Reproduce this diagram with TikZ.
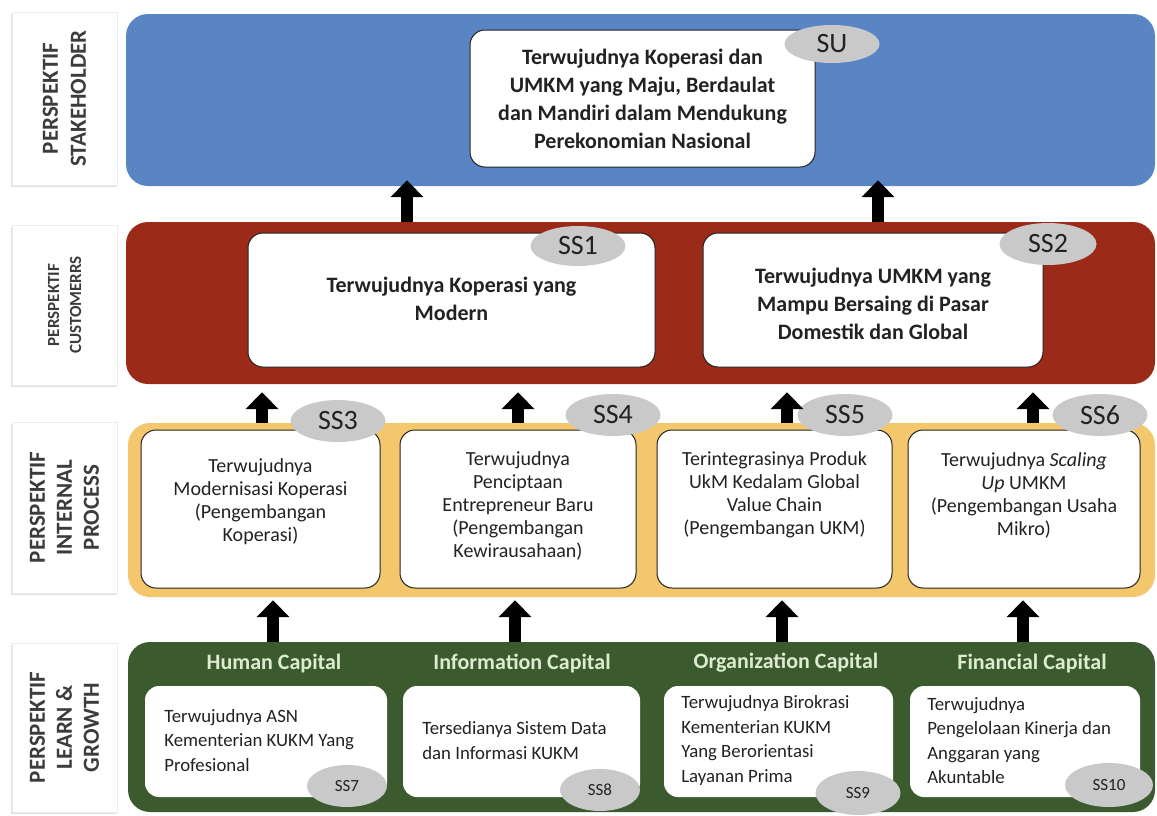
\documentclass[tikz,border=0pt]{standalone}
\usepackage{fontspec}
\setmainfont{Carlito}
\usetikzlibrary{arrows.meta,shadows,shapes.geometric}
\definecolor{bandblue}{HTML}{5A85C4}
\definecolor{bandred}{HTML}{9B2A18}
\definecolor{bandorange}{HTML}{F5C76C}
\definecolor{bandgreen}{HTML}{3B5B2E}
\definecolor{headgreen}{HTML}{DDEBD0}
\definecolor{txt}{HTML}{222222}
\definecolor{ovalgray}{HTML}{C9C9C9}
\definecolor{labeltxt}{HTML}{3C3C3C}
\tikzset{
  band/.style={draw=none, rounded corners=22pt, inner sep=0pt},
  lbl/.style={fill=white, draw=gray!15, inner sep=0pt, drop shadow={shadow xshift=-1.5pt, shadow yshift=-2pt, opacity=0.25}},
  lbltext/.style={rotate=90, align=center, text=labeltxt, font=\bfseries},
  whitebox/.style={fill=white, draw=txt, line width=1pt, rounded corners=15pt, inner sep=0pt},
  greenbox/.style={fill=white, draw=none, rounded corners=14pt, inner sep=0pt},
  oval/.style={ellipse, fill=ovalgray, inner sep=0pt, text=txt},
  bigarrow/.style={line width=12pt, -{Triangle[width=32pt,length=17pt]}, black},
  toptext/.style={align=center, text=txt, font=\bfseries\fontsize{22}{28}\selectfont},
  midtext/.style={align=center, text=txt, font=\fontsize{20}{23}\selectfont},
  learntext/.style={align=left, text=txt, font=\fontsize{18.8}{24.5}\selectfont, anchor=west},
  headtext/.style={text=headgreen, font=\bfseries\fontsize{22}{24}\selectfont},
}
\begin{document}
\begin{tikzpicture}[x=1pt,y=-1pt]
\useasboundingbox (0,0) rectangle (1157,815);
\fill[white] (0,0) rectangle (1157,815);

% left labels
\node[lbl, minimum width=105pt, minimum height=173pt] (l1) at (64.5,98.5) {};
\node[lbltext, font=\bfseries\fontsize{23}{28}\selectfont] (l1t) at (l1.center) {PERSPEKTIF\\STAKEHOLDER};
\node[lbl, minimum width=105pt, minimum height=160pt] (l2) at (64.5,305) {};
\node[lbltext, font=\bfseries\fontsize{17}{22}\selectfont] (l2t) at (l2.center) {PERSPEKTIF\\CUSTOMERRS};
\node[lbl, minimum width=105pt, minimum height=171pt] (l3) at (64.5,507.5) {};
\node[lbltext, font=\bfseries\fontsize{23}{27}\selectfont] (l3t) at (l3.center) {PERSPEKTIF\\INTERNAL\\PROCESS};
\node[lbl, minimum width=105pt, minimum height=169pt] (l4) at (64.5,727.5) {};
\node[lbltext, font=\bfseries\fontsize{23}{27}\selectfont] (l4t) at (l4.center) {PERSPEKTIF\\LEARN \&\\GROWTH};

% bands
\node[band, fill=bandblue, minimum width=1029pt, minimum height=172pt] (blue) at (640.5,100) {};
\node[band, fill=bandred, minimum width=1029pt, minimum height=162pt] (red) at (640.5,303) {};
\node[band, fill=bandorange, minimum width=1027pt, minimum height=174pt] (orange) at (641.5,510) {};
\node[band, fill=bandgreen, minimum width=1027pt, minimum height=170pt] (green) at (641.5,727) {};

% stakeholder
\node[whitebox, minimum width=345pt, minimum height=137pt] (su) at (642.5,98.5) {};
\node[toptext] (sut) at (su.center) {Terwujudnya Koperasi dan\\UMKM yang Maju, Berdaulat\\dan Mandiri dalam Mendukung\\Perekonomian Nasional};
\node[oval, minimum width=95pt, minimum height=38pt, font=\fontsize{28}{30}\selectfont] (suo) at (832,44) {SU};

% customers
\node[whitebox, minimum width=407pt, minimum height=134pt] (ss1) at (451.5,300) {};
\node[toptext] (ss1t) at (451.5,299) {Terwujudnya Koperasi yang\\Modern};
\node[oval, minimum width=95pt, minimum height=40pt, font=\fontsize{28}{30}\selectfont] (ss1o) at (578,246) {SS1};
\node[whitebox, minimum width=340pt, minimum height=134pt] (ss2) at (873,300) {};
\node[toptext] (ss2t) at (873,304) {Terwujudnya UMKM yang\\Mampu Bersaing di Pasar\\Domestik dan Global};
\node[oval, minimum width=97pt, minimum height=42pt, font=\fontsize{28}{30}\selectfont] (ss2o) at (1048,244) {SS2};

% internal process
\node[whitebox, minimum width=239pt, minimum height=158pt] (ss3) at (260.5,509) {};
\node[midtext] (ss3t) at (260.5,502) {Terwujudnya\\Modernisasi Koperasi\\(Pengembangan\\Koperasi)};
\node[oval, minimum width=95pt, minimum height=42pt, font=\fontsize{28}{30}\selectfont] (ss3o) at (338,421) {SS3};
\node[whitebox, minimum width=236pt, minimum height=158pt] (ss4) at (518,509) {};
\node[midtext] (ss4t) at (518,506) {Terwujudnya\\Penciptaan\\Entrepreneur Baru\\(Pengembangan\\Kewirausahaan)};
\node[oval, minimum width=95pt, minimum height=42pt, font=\fontsize{28}{30}\selectfont] (ss4o) at (613,415) {SS4};
\node[whitebox, minimum width=235pt, minimum height=158pt] (ss5) at (774.5,509) {};
\node[midtext] (ss5t) at (774.5,495) {Terintegrasinya Produk\\UkM Kedalam Global\\Value Chain\\(Pengembangan UKM)};
\node[oval, minimum width=95pt, minimum height=42pt, font=\fontsize{28}{30}\selectfont] (ss5o) at (845,415) {SS5};
\node[whitebox, minimum width=232pt, minimum height=158pt] (ss6) at (1024,509) {};
\node[midtext] (ss6t) at (1024,495) {Terwujudnya \textit{Scaling}\\\textit{Up} UMKM\\(Pengembangan Usaha\\Mikro)};
\node[oval, minimum width=95pt, minimum height=42pt, font=\fontsize{28}{30}\selectfont] (ss6o) at (1100,415) {SS6};

% learn & growth
\node[headtext] (h1) at (274,663) {Human Capital};
\node[headtext] (h2) at (522,663) {Information Capital};
\node[headtext] (h3) at (786,663) {Organization Capital};
\node[headtext] (h4) at (1032,663) {Financial Capital};

\node[greenbox, minimum width=242pt, minimum height=111pt] (ss7) at (266,741.5) {};
\node[learntext] (ss7t) at ([xshift=16pt,yshift=1pt]ss7.west) {Terwujudnya ASN\\Kementerian KUKM Yang\\Profesional};
\node[greenbox, minimum width=237pt, minimum height=111pt] (ss8) at (521.5,741.5) {};
\node[learntext] (ss8t) at ([xshift=16pt,yshift=1pt]ss8.west) {Tersedianya Sistem Data\\dan Informasi KUKM};
\node[greenbox, minimum width=229pt, minimum height=111pt] (ss9) at (778.5,741.5) {};
\node[learntext] (ss9t) at ([xshift=14pt,yshift=1pt]ss9.west) {Terwujudnya Birokrasi\\Kementerian KUKM\\Yang Berorientasi\\Layanan Prima};
\node[greenbox, minimum width=230pt, minimum height=111pt] (ss10) at (1025,741.5) {};
\node[learntext] (ss10t) at ([xshift=14pt,yshift=1pt]ss10.west) {Terwujudnya\\Pengelolaan Kinerja dan\\Anggaran yang\\Akuntable};

\node[oval, minimum width=80pt, minimum height=42pt, font=\fontsize{17}{18}\selectfont] (ss7o) at (347,786) {SS7};
\node[oval, minimum width=80pt, minimum height=42pt, font=\fontsize{17}{18}\selectfont] (ss8o) at (600,790) {SS8};
\node[oval, minimum width=85pt, minimum height=44pt, font=\fontsize{17}{18}\selectfont] (ss9o) at (858,793) {SS9};
\node[oval, minimum width=88pt, minimum height=44pt, font=\fontsize{17}{18}\selectfont] (ss10o) at (1109,785) {SS10};

% arrow columns
\coordinate (a1) at (407,0);
\coordinate (a2) at (878,0);
\coordinate (b1) at (262,0);
\coordinate (b2) at (518,0);
\coordinate (b3) at (787,0);
\coordinate (b4) at (1033,0);
\coordinate (c1) at (273,0);
\coordinate (c2) at (515,0);
\coordinate (c3) at (782,0);
\coordinate (c4) at (1023,0);

\draw[bigarrow] (red.north -| a1) -- ([yshift=6pt]blue.south -| a1);
\draw[bigarrow] (red.north -| a2) -- ([yshift=6pt]blue.south -| a2);
\foreach \c in {b1,b2,b3,b4}
  \draw[bigarrow] (orange.north -| \c) -- ([yshift=-8pt]red.south -| \c);
\foreach \c in {c1,c2,c3,c4}
  \draw[bigarrow] (green.north -| \c) -- ([yshift=-3pt]orange.south -| \c);
\end{tikzpicture}
\end{document}
